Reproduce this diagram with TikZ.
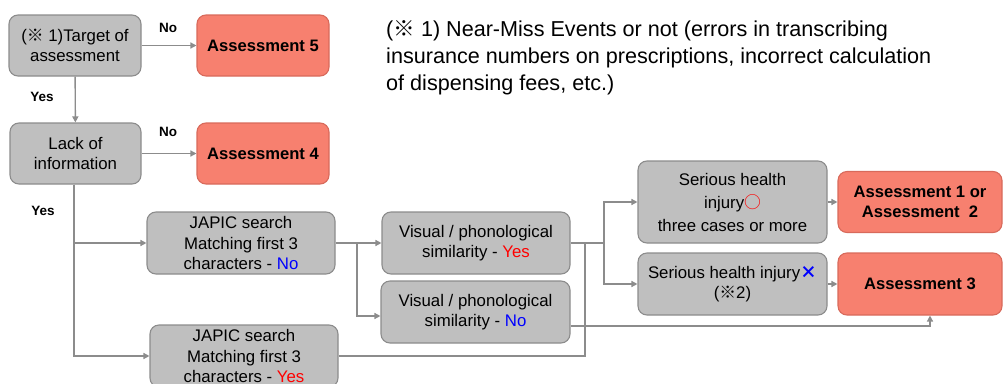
\documentclass[tikz,border=0pt]{standalone}
\usepackage{fontspec}
\setmainfont{Liberation Sans}
\newfontfamily\cjk{Noto Sans CJK JP}
\usetikzlibrary{arrows.meta}
\definecolor{gfill}{HTML}{BFBFBF}
\definecolor{gline}{HTML}{8C8C8C}
\definecolor{sfill}{HTML}{F7806F}
\definecolor{sline}{HTML}{D86A5B}
\definecolor{cline}{HTML}{8C8C8C}
\begin{document}
\begin{tikzpicture}[x=1pt,y=-1pt,
  gbox/.style={draw=gline,fill=gfill,line width=1.1pt,rounded corners=9pt,align=center,
    font=\fontsize{16.8}{20.5}\selectfont,inner sep=1pt},
  abox/.style={draw=sline,fill=sfill,line width=1.1pt,rounded corners=9pt,align=center,
    font=\fontsize{16.6}{20}\selectfont\bfseries,inner sep=1pt},
  conn/.style={draw=cline,line width=1.4pt},
  arr/.style={conn,-{Triangle[width=6pt,length=6pt]}},
  lab/.style={font=\fontsize{13.5}{15}\selectfont\bfseries}]
\useasboundingbox (0,0) rectangle (1003,383);
% nodes
\node[gbox,minimum width=132pt,minimum height=61pt] (t) at (75,45.5) {({\cjk ※} 1)Target of\\assessment};
\node[abox,minimum width=132pt,minimum height=61pt] (a5) at (263,45.5) {Assessment 5};
\node[gbox,minimum width=131pt,minimum height=61pt] (l) at (75.5,153.5) {Lack of\\information};
\node[abox,minimum width=132pt,minimum height=61pt] (a4) at (263,153.5) {Assessment 4};
\node[gbox,minimum width=188pt,minimum height=62pt] (j1) at (241,243) {JAPIC search\\Matching first 3\\characters - \textcolor{blue}{No}};
\node[gbox,minimum width=188pt,minimum height=62pt] (j2) at (244,356) {JAPIC search\\Matching first 3\\characters - \textcolor{red}{Yes}};
\node[gbox,minimum width=188pt,minimum height=62pt] (v1) at (476,243) {Visual / phonological\\similarity - \textcolor{red}{Yes}};
\node[gbox,minimum width=189pt,minimum height=62pt] (v2) at (475.5,312) {Visual / phonological\\similarity - \textcolor{blue}{No}};
\node[gbox,minimum width=189pt,minimum height=82pt,font=\fontsize{16.8}{23}\selectfont] (s1) at (732.5,202) {Serious health\\injury{\cjk\textcolor{red}{○}}\\three cases or more};
\node[gbox,minimum width=189pt,minimum height=62pt] (s2) at (732.5,284) {Serious health injury{\cjk\bfseries\textcolor{blue}{×}}\\({\cjk ※}2)};
\node[abox,minimum width=164pt,minimum height=61pt] (a12) at (920,202) {Assessment 1 or\\Assessment~~2};
\node[abox,minimum width=164pt,minimum height=62pt] (a3) at (920,284) {Assessment 3};
% note
\node[anchor=north west,align=left,font=\fontsize{21.6}{27}\selectfont,inner sep=0pt] (note) at (386,20)
  {({\cjk ※} 1) Near-Miss Events or not (errors in transcribing\\insurance numbers on prescriptions, incorrect calculation\\of dispensing fees, etc.)};
% labels
\node[lab] (n1) at (168,28) {No};
\node[lab] (y1) at (42,97) {Yes};
\node[lab] (n2) at (168,132) {No};
\node[lab] (y2) at (43,211) {Yes};
% connectors
\draw[arr] (t) -- (a5);
\draw[arr] (t) -- (l);
\draw[arr] (l) -- (a4);
\coordinate (ls) at ([xshift=-1.5pt]l.south);
\draw[arr] (ls) |- (j1.west);
\draw[arr] (ls) |- (j2.west);
\draw[arr] (j1) -- (v1);
\coordinate (b1) at (357,243);
\draw[arr] (b1) |- ([yshift=-4pt]v2.west);
\coordinate (b2) at (604,243);
\draw[conn] (v1.east) -- (b2);
\draw[arr] (b2) |- (s1.west);
\draw[arr] (b2) |- (s2.west);
\coordinate (m) at (585,243);
\draw[conn] (j2.east) -| (m);
\draw[arr] ([yshift=-14pt]v2.east) -| ([xshift=10pt]a3.south);
\draw[arr] (s1) -- (a12);
\draw[arr] (s2) -- (a3);
\end{tikzpicture}
\end{document}
